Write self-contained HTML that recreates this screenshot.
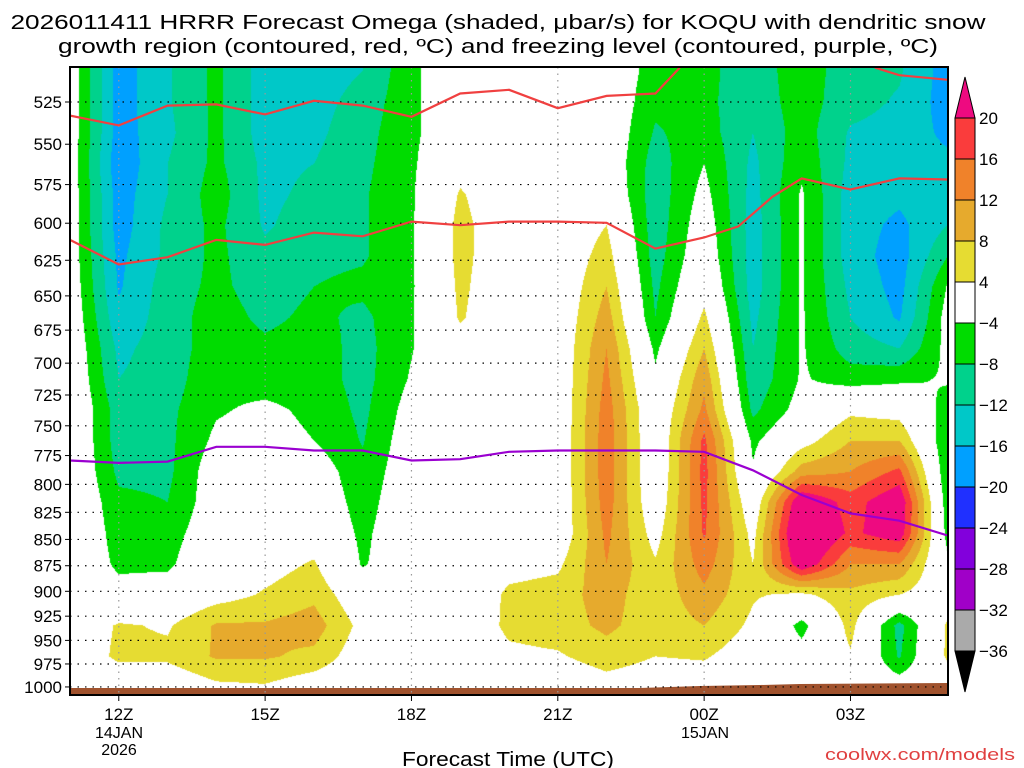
<!DOCTYPE html>
<html><head><meta charset="utf-8">
<style>
html,body{margin:0;padding:0;background:#fff;width:1024px;height:768px;overflow:hidden;}
#wrap{position:relative;width:1024px;height:768px;}
canvas{position:absolute;left:70px;top:67px;}
svg{position:absolute;left:0;top:0;}
text{font-family:"Liberation Sans",sans-serif;fill:#000;}
</style></head>
<body>
<div id="wrap">
<canvas id="field" width="878" height="628"></canvas>
<svg id="ov" width="1024" height="768"></svg>
</div>
<script>
// ---- data: omega (ubar/s) per forecast hour at grid pressure levels (hPa) ----
const pressures = [507.5,525,543.1,561.9,581.2,601.3,622.0,643.5,665.7,688.7,712.4,737.0,762.4,788.8,815.9,844.1,873.2,903.4,934.6,966.8,1000];
const hours = [11,12,13,14,15,16,17,18,19,20,21,22,23,24,25,26,27,28,29];
const h11 = [-1,-1,-1,-1,-1,-1,-1,-0.5,0,0.5,1,1.5,1.5,1.5,1.5,1.5,1,0.5,0,0,0];
const h12 = [-18,-18,-18,-19,-18,-18,-17,-16.5,-15,-13,-12,-10,-10,-9,-7,-6,-5,-2,4.5,5,0];
const h13 = [-12.5,-12.5,-13,-12,-12,-11,-11,-10,-10,-10,-10,-9,-9,-9,-8,-6,-5,-1,3.5,5,0];
const h14 = [-7,-7,-7,-7,-6,-7,-7,-7,-6,-6,-5,-4.5,-3,-1,-1,-0.5,1,2,8.5,8.5,3];
const h15 = [-14,-14,-14,-13,-13,-12.5,-11,-10,-9,-7,-6,-3,-2,-0.5,0,1,2,4.5,8.5,8.5,3.5];
const h16 = [-14,-13.5,-13,-12,-11,-10,-9,-8,-7,-6,-6,-5,-4,-1,0,1,4.5,7,10,7,1];
const h17 = [-12,-10.5,-9.5,-9,-8.5,-8.5,-8.5,-7,-9,-9.5,-9.5,-9,-8.3,-7,-6,-5,-4.5,0,2.5,1,0];
const h18 = [-5,-5,-5,-4.8,-4.6,-4.6,-4.6,-4.6,-4.4,-4.3,-3.5,-2,-1,-0.5,0,0,0,0,0,0,0];
const h19 = [0,0,0,2,4.5,5.5,5.5,5,4.5,2,0,0,0,0,0,0,0,-1,0,0,0];
const h20 = [0,0,0,0,0,0,0,0,0,0,0,0,0,0,0,0,2,5,5,3,0];
const h21 = [0,0,0,0,0,0,0,0,0,0,0,0,0,0,0,0,3,6,6,3.5,0];
const h22 = [0,0,0,0,1,4,6,8,10,12,13,14,14.5,14.5,14,13,12,10,9,6,2];
const h23 = [-6,-7,-8.5,-10,-10.5,-10.5,-10,-9,-8,-5,-3,-1,-1,-1,0,2,4.5,5,5.5,4,1];
const h24 = [-7,-7,-6,-4,-2.5,-1,0,2,5,8,11,13,17,17.5,17,16.5,14,11,8,4.5,1];
const h25 = [-10,-10.5,-12,-13,-13.5,-14,-14,-14,-13,-12,-11,-9,-5,-3.5,0,2.5,4,4.5,3,1,0];
const h26 = [-6,-6,-6,-5,-3.5,-3.5,-3.5,-3.5,-3.5,-3.5,-3.5,-2,2,10,25,28,24,3,-5.5,-2,0];
const h27 = [-10,-10.5,-12.5,-13,-14,-14,-14,-13,-12,-10,-6,3,8,12,18,19,12,7,5.5,3.5,0];
const h28 = [-11.5,-12.5,-13.5,-14,-15,-17,-18,-17.5,-16.5,-12,-5,2,8,17,24,23,12,4,-9.5,-8.5,-1];
const h29 = [-18,-18,-17,-15,-13,-12,-8,-3.5,-2,-2.5,-3.5,-6,-8,-8,-7,-6,-3,0,5,5,0];
const omegaCols = [h11,h12,h13,h14,h15,h16,h17,h18,h19,h20,h21,h22,h23,h24,h25,h26,h27,h28,h29];

// dendritic growth and freezing level contours: hour, pressure (hPa)
const dgzUpperHours = [11,12,13,14,15,16,17,18,19,20,21,22,23,23.5];
const dgzUpperP = [532.9,538.7,527.1,526.4,532.2,524.3,527.1,533.6,520.1,518.0,528.6,521.5,520.1,505.5];
const dgzUpper2Hours = [27.5,28,29];
const dgzUpper2P = [505.5,509.7,512.3];
const dgzLowerHours = [11,12,13,14,15,16,17,18,19,20,21,22,23,24,24.7,25.4,26,27,28,29];
const dgzLowerP = [611.1,627.9,622.9,611.1,614.5,606.2,608.7,598.9,601.3,598.9,598.9,599.7,617.0,609.5,602.1,582.8,571.1,578.1,571.1,571.8];
const frzHours = [11,12,13,14,15,16,17,18,19,20,21,22,23,24,25,26,27,28,29];
const frzP = [779.2,781.3,780.2,767.6,767.6,770.7,770.7,779.2,778.1,771.8,770.7,770.7,770.7,771.8,787.7,809.4,826.0,832.7,846.4];

const levels = [20,16,12,8,4,-4,-8,-12,-16,-20,-24,-28,-32,-36];
const levelLabels = ['20','16','12','8','4','\u22124','\u22128','\u221212','\u221216','\u221220','\u221224','\u221228','\u221232','\u221236'];
const pLabels = [525,550,575,600,625,650,675,700,725,750,775,800,825,850,875,900,925,950,975,1000];
const xTickHours = [12,15,18,21,24,27];
const xTickLabels = ['12Z','15Z','18Z','21Z','00Z','03Z'];

// ---- axes (log-pressure) ----
const X0=70, X1=948, Y0=67, Y1=695;
function xOf(h){ return 70 + (h-11)*48.78; }
function yOf(p){ return 102 + 907.8*Math.log(p/525); }
function hOfX(x){ return 11 + (x-70)/48.78; }

const colors = ['#ee0a80','#fa3c3c','#f0822a','#e6aa2d','#e6dc32','#ffffff','#00dc00','#00d28c','#00c8c8','#00a0ff','#2030ff','#8200dc','#a000c8','#aaaaaa','#000000'];
function colorIdx(v){
  if(v>=20) return 0; if(v>=16) return 1; if(v>=12) return 2; if(v>=8) return 3; if(v>=4) return 4;
  if(v>-4) return 5; if(v>-8) return 6; if(v>-12) return 7; if(v>-16) return 8; if(v>-20) return 9;
  if(v>-24) return 10; if(v>-28) return 11; if(v>-32) return 12; if(v>-36) return 13; return 14;
}
function hex(c){ return [parseInt(c.substr(1,2),16),parseInt(c.substr(3,2),16),parseInt(c.substr(5,2),16)]; }
const rgb = colors.map(hex);

// ---- shading ----
(function(){
  const cv=document.getElementById('field'), ctx=cv.getContext('2d');
  const W=cv.width,H=cv.height, img=ctx.createImageData(W,H);
  const yRows=pressures.map(yOf);
  for(let py=0;py<H;py++){
    const y=Y0+py+0.5;
    let j=0; while(j<yRows.length-2 && y>yRows[j+1]) j++;
    let tj=(y-yRows[j])/(yRows[j+1]-yRows[j]); tj=Math.max(0,Math.min(1,tj));
    for(let px=0;px<W;px++){
      const h=hOfX(X0+px+0.5);
      let fi=h-hours[0]; fi=Math.max(0,Math.min(hours.length-1.0001,fi));
      const i=Math.floor(fi), ti=fi-i;
      const a=omegaCols[i][j], b=omegaCols[i+1][j], c=omegaCols[i][j+1], d=omegaCols[i+1][j+1];
      const v=(a*(1-ti)+b*ti)*(1-tj)+(c*(1-ti)+d*ti)*tj;
      const col=rgb[colorIdx(v)], k=(py*W+px)*4;
      img.data[k]=col[0]; img.data[k+1]=col[1]; img.data[k+2]=col[2]; img.data[k+3]=255;
    }
  }
  ctx.putImageData(img,0,0);
})();

// ---- overlay ----
const NS='http://www.w3.org/2000/svg';
const svg=document.getElementById('ov');
function mk(tag,attrs,parent){ const e=document.createElementNS(NS,tag); for(const k in attrs) e.setAttribute(k,attrs[k]); (parent||svg).appendChild(e); return e; }

const ground=mk('polygon',{points:'70,688 640,688 700,686 760,685 800,684 948,683 948,695 70,695',fill:'#a0522d'});



pLabels.forEach(function(p){
  const g=mk('line',{x1:X0,x2:X1,y1:yOf(p),y2:yOf(p),stroke:'#000','stroke-width':1.2,'stroke-dasharray':'1.5,6'});
  
  
  const t=mk('line',{x1:X0-5,x2:X0,y1:yOf(p),y2:yOf(p),stroke:'#000','stroke-width':1});
  
  
  const l=mk('text',{x:62,y:yOf(p)+6,'text-anchor':'end','font-size':17});
  l.textContent=String(p);
  
  
});
xTickHours.forEach(function(h,k){
  const g=mk('line',{x1:xOf(h),x2:xOf(h),y1:Y0,y2:Y1,stroke:'#999','stroke-width':1.2,'stroke-dasharray':'1.5,5'});
  
  
  const t=mk('line',{x1:xOf(h),x2:xOf(h),y1:Y1,y2:Y1+6,stroke:'#000','stroke-width':1});
  
  
  const l=mk('text',{x:xOf(h),y:720,'text-anchor':'middle','font-size':17});
  l.textContent=xTickLabels[k];
  
  
});
function pathFrom(hs,ps){ return hs.map(function(h,i){return (i?'L':'M')+xOf(h).toFixed(1)+','+yOf(ps[i]).toFixed(1);}).join(''); }
const clip=mk('clipPath',{id:'pc'}); mk('rect',{x:X0,y:Y0,width:X1-X0,height:Y1-Y0},clip);
const l1=mk('path',{d:pathFrom(dgzUpperHours,dgzUpperP),fill:'none',stroke:'#f04040','stroke-width':2.2,'clip-path':'url(#pc)'});


const l1b=mk('path',{d:pathFrom(dgzUpper2Hours,dgzUpper2P),fill:'none',stroke:'#f04040','stroke-width':2.2,'clip-path':'url(#pc)'});


const l2=mk('path',{d:pathFrom(dgzLowerHours,dgzLowerP),fill:'none',stroke:'#f04040','stroke-width':2.2,'clip-path':'url(#pc)'});


const l3=mk('path',{d:pathFrom(frzHours,frzP),fill:'none',stroke:'#9a00d0','stroke-width':2.2,'clip-path':'url(#pc)'});



const fr=mk('rect',{x:X0,y:Y0,width:X1-X0,height:Y1-Y0,fill:'none',stroke:'#000','stroke-width':2});



const CBX=955, CBW=20, CBT=118, STEP=41;
const tri1=mk('polygon',{points:(CBX)+','+CBT+' '+(CBX+CBW)+','+CBT+' '+(CBX+CBW/2)+',77',fill:colors[0],stroke:'#000','stroke-width':1});


for(let k=0;k<levels.length-1;k++){
  const r=mk('rect',{x:CBX,y:CBT+k*STEP,width:CBW,height:STEP,fill:colors[k+1],stroke:'#000','stroke-width':1});
  
  
}
const cbBot=CBT+(levels.length-1)*STEP;
const tri2=mk('polygon',{points:CBX+','+cbBot+' '+(CBX+CBW)+','+cbBot+' '+(CBX+CBW/2)+',692',fill:colors[14],stroke:'#000','stroke-width':1});


levels.forEach(function(v,k){
  const t=mk('text',{x:979,y:CBT+k*STEP+6,'font-size':17});
  t.textContent=levelLabels[k];
  
  
});

function txt(s,x,y,size,anchor,name,extra){
  const a={x:x,y:y,'font-size':size,'text-anchor':anchor}; if(extra) for(const k in extra) a[k]=extra[k];
  const t=mk('text',a); t.textContent=s;
  
  
  return t;
}
txt('2026011411 HRRR Forecast Omega (shaded, \u03bcbar/s) for KOQU with dendritic snow',498,29,20,'middle','title-line-1',{textLength:975,lengthAdjust:'spacingAndGlyphs'});
txt('growth region (contoured, red, \u00baC) and freezing level (contoured, purple, \u00baC)',498,53,20,'middle','title-line-2',{textLength:880,lengthAdjust:'spacingAndGlyphs'});
txt('14JAN',119,738,16,'middle','date-label-14jan');
txt('2026',119,755,16,'middle','year-label');
txt('15JAN',705,738,16,'middle','date-label-15jan');
txt('Forecast Time (UTC)',508,766,20,'middle','x-axis-title',{textLength:212,lengthAdjust:'spacingAndGlyphs'});
const cr=txt('coolwx.com/models',1015,760,17,'end','credit-link',{textLength:190,lengthAdjust:'spacingAndGlyphs'});
cr.setAttribute('style','fill:#e04040');
</script>
</body></html>
